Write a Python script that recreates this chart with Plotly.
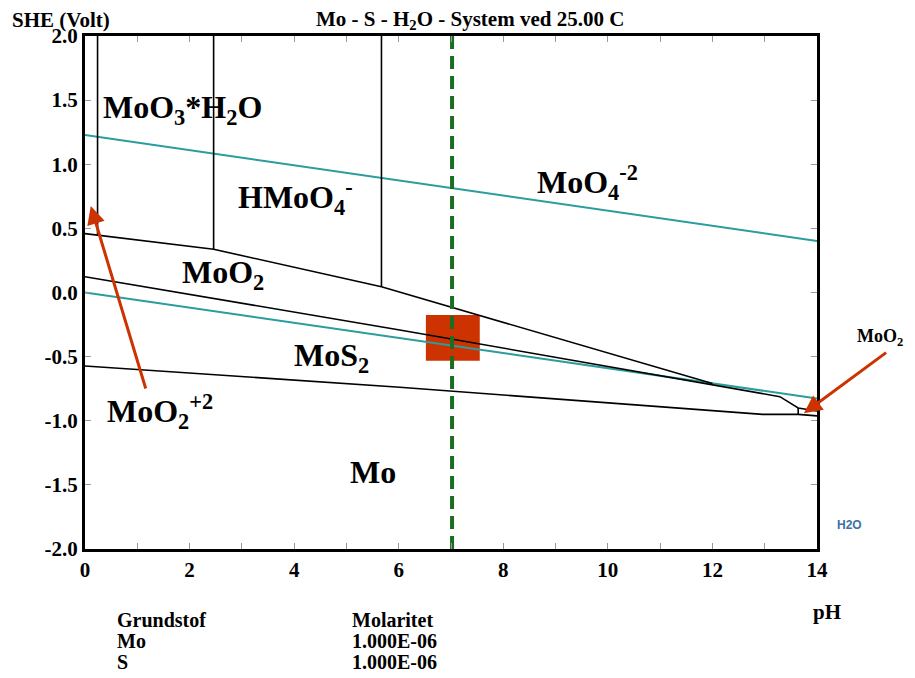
import plotly.graph_objects as go

# ---------------- data ----------------
# boundary: upper edge of MoO2 field
upper_ph = [0.0, 0.24, 2.46, 5.67, 12.0]
upper_E = [0.459, 0.447, 0.337, 0.045, -0.71]
# boundary: MoO2 / MoS2
mid_ph = [0.0, 6.02, 13.29, 13.64, 14.0]
mid_E = [0.123, -0.292, -0.812, -0.90, -0.924]
# boundary: MoS2 / Mo
low_ph = [0.0, 6.02, 12.96, 13.64, 14.0]
low_E = [-0.573, -0.739, -0.95, -0.95, -0.962]
# vertical boundaries (pH, E bottom, E top)
vert_ph = [0.24, 2.46, 5.67, 13.64]
vert_Ebot = [0.447, 0.337, 0.045, -0.95]
vert_Etop = [2.0, 2.0, 2.0, -0.90]
# water stability lines
water_ph = [0.0, 14.0]
water_O2 = [1.228, 0.402]
water_H2 = [0.0, -0.827]
# neutral pH marker
neutral_ph = 7.02
# highlighted box (pH range, E range)
box_ph = [6.52, 7.55]
box_E = [-0.532, -0.175]
# arrows (tail pH, tail E, head pH, head E)
arrow_tail_ph = [1.17, 15.35]
arrow_tail_E = [-0.76, -0.46]
arrow_head_ph = [0.11, 13.75]
arrow_head_E = [0.674, -0.942]

# field labels (inside the plot)
labels = ["MoO<sub>3</sub>*H<sub>2</sub>O", "HMoO<sub>4</sub><sup>-</sup>", "MoO<sub>2</sub>",
          "MoO<sub>4</sub><sup>-2</sup>", "MoS<sub>2</sub>", "MoO<sub>2</sub><sup>+2</sup>", "Mo"]
label_ph = [1.87, 4.03, 2.64, 9.62, 4.72, 1.43, 5.51]
label_E = [1.43, 0.74, 0.14, 0.86, -0.51, -0.93, -1.40]
# field label outside the plot (paper coords)
side_label = "MoO<sub>2</sub>"
side_label_pos = [1.0525, 0.412]

x_tickvals = list(range(0, 15))
x_ticktext = [str(v) if v % 2 == 0 else "" for v in x_tickvals]
y_tickvals = [2.0, 1.5, 1.0, 0.5, 0.0, -0.5, -1.0, -1.5, -2.0]
y_ticktext = ["2.0", "1.5", "1.0", "0.5", "0.0", "-0.5", "-1.0", "-1.5", "-2.0"]

elements = ["Grundstof", "Mo", "S"]
molarity = ["Molaritet", "1.000E-06", "1.000E-06"]

FONT = "Liberation Serif, Times New Roman, serif"
TEAL = "#2a9d9d"
RED = "#cc3300"
GREEN = "#1b6e20"

fig = go.Figure()

fig.add_shape(type="rect", xref="x", yref="y", x0=box_ph[0], x1=box_ph[1],
              y0=box_E[0], y1=box_E[1], fillcolor=RED, line=dict(width=0), layer="below")

for yy in (water_O2, water_H2):
    fig.add_trace(go.Scatter(x=water_ph, y=yy, mode="lines",
                             line=dict(color=TEAL, width=2), hoverinfo="skip"))

for xs, ys in ((upper_ph, upper_E), (mid_ph, mid_E), (low_ph, low_E)):
    fig.add_trace(go.Scatter(x=xs, y=ys, mode="lines",
                             line=dict(color="black", width=1.6), hoverinfo="skip"))
for p, b, t in zip(vert_ph, vert_Ebot, vert_Etop):
    fig.add_trace(go.Scatter(x=[p, p], y=[b, t], mode="lines",
                             line=dict(color="black", width=1.6), hoverinfo="skip"))

fig.add_trace(go.Scatter(x=[neutral_ph, neutral_ph], y=[-2, 2], mode="lines",
                         line=dict(color=GREEN, width=4, dash="13px,7px"), hoverinfo="skip"))

annotations = []
lfont = dict(family=FONT, size=32, color="black", weight="bold")
for t, p, e in zip(labels, label_ph, label_E):
    annotations.append(dict(x=p, y=e, xref="x", yref="y", text=t, showarrow=False,
                            xanchor="center", yanchor="middle", font=lfont))
annotations.append(dict(x=side_label_pos[0], y=side_label_pos[1], xref="paper", yref="paper",
                        text=side_label, showarrow=False, xanchor="left", yanchor="middle",
                        font=dict(family=FONT, size=18, color="black", weight="bold")))
for tp, te, hp, he in zip(arrow_tail_ph, arrow_tail_E, arrow_head_ph, arrow_head_E):
    annotations.append(dict(x=hp, y=he, ax=tp, ay=te, xref="x", yref="y", axref="x", ayref="y",
                            text="", showarrow=True, arrowhead=2, arrowsize=1.2,
                            arrowwidth=3, arrowcolor=RED))

tfont = dict(family=FONT, size=21, color="black", weight="bold")
annotations.append(dict(x=-0.1024, y=1.031, xref="paper", yref="paper", xanchor="left",
                        yanchor="middle", text="SHE (Volt)", showarrow=False, font=tfont))
annotations.append(dict(x=0.5256, y=1.031, xref="paper", yref="paper", xanchor="center",
                        yanchor="middle",
                        text="Mo - S - H<sub>2</sub>O - System ved 25.00 C", showarrow=False,
                        font=tfont))
annotations.append(dict(x=1.014, y=-0.1228, xref="paper", yref="paper", xanchor="center",
                        yanchor="middle", text="pH", showarrow=False, font=tfont))
annotations.append(dict(x=1.044, y=0.0468, xref="paper", yref="paper", xanchor="center",
                        yanchor="middle", text="H2O", showarrow=False,
                        font=dict(family="Liberation Sans, Arial, sans-serif", size=12,
                                  color="#3d6fa8", weight="bold")))
rows_y = [-0.1384, -0.1793, -0.2203]
bfont = dict(family=FONT, size=20, color="black", weight="bold")
for el, mo, yy in zip(elements, molarity, rows_y):
    annotations.append(dict(x=0.041, y=yy, xref="paper", yref="paper", xanchor="left",
                            yanchor="middle", text=el, showarrow=False, font=bfont))
    annotations.append(dict(x=0.3618, y=yy, xref="paper", yref="paper", xanchor="left",
                            yanchor="middle", text=mo, showarrow=False, font=bfont))

axis_common = dict(showgrid=False, zeroline=False, showline=True, linecolor="black",
                   linewidth=3, mirror="ticks", ticks="inside", ticklen=6, tickcolor="#999",
                   tickwidth=1,
                   tickfont=dict(family=FONT, size=21, color="black", weight="bold"))

# page body has an 8px margin, so the figure is sized to fit the window
fig.update_layout(
    width=907, height=670,
    margin=dict(l=77, r=98, t=28, b=129),
    plot_bgcolor="white", paper_bgcolor="white",
    showlegend=False,
    annotations=annotations,
    xaxis=dict(range=[0, 14], tickvals=x_tickvals, ticktext=x_ticktext, **axis_common),
    yaxis=dict(range=[-2, 2], tickvals=y_tickvals, ticktext=y_ticktext, **axis_common),
)

fig.write_html("out.html")
